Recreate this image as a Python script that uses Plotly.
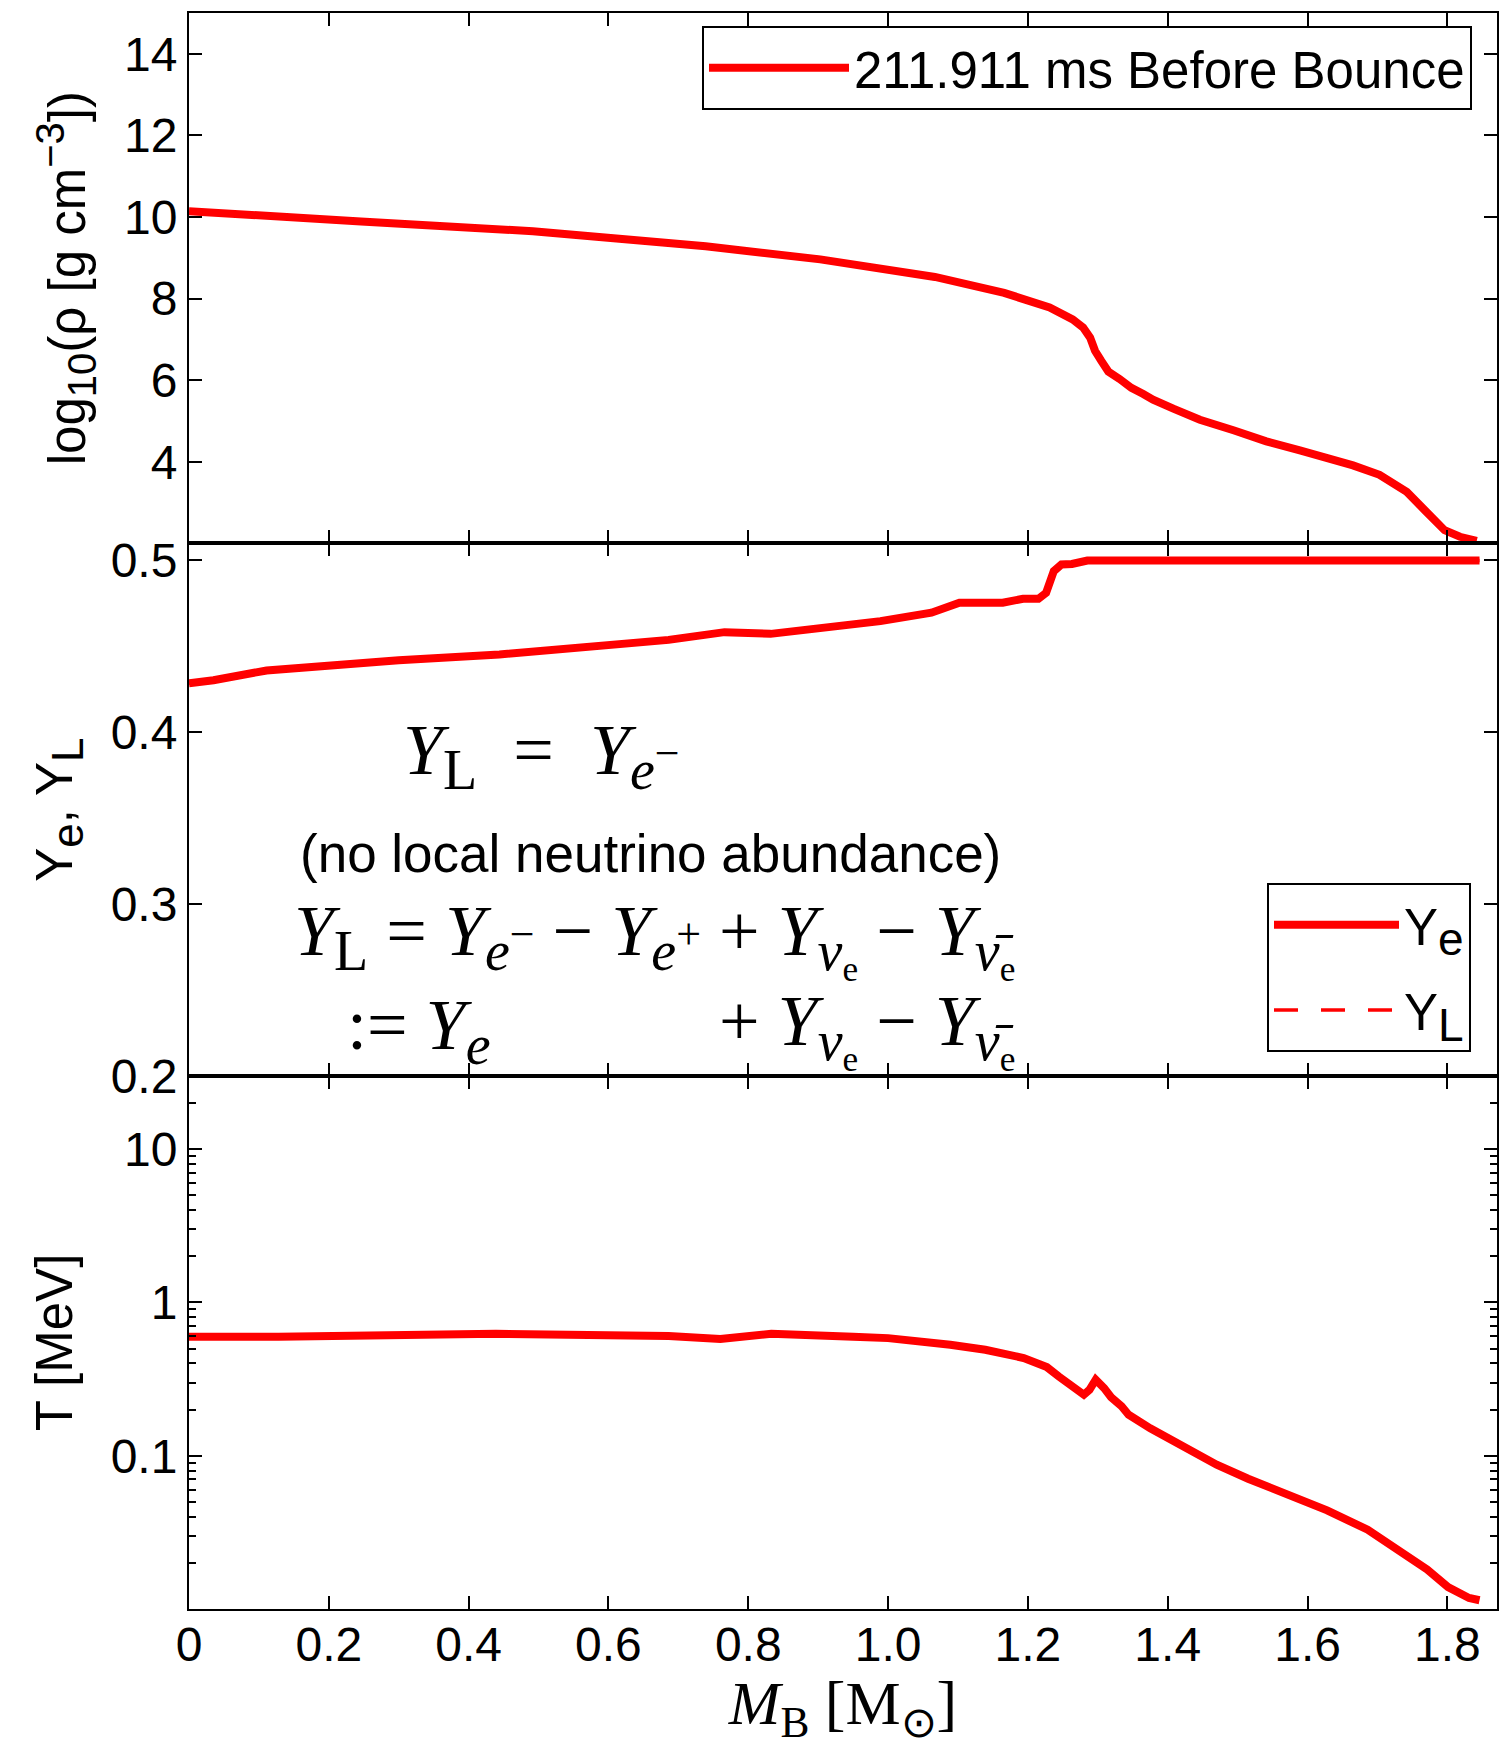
import plotly.graph_objects as go
from plotly.subplots import make_subplots

# ---------------- data ----------------
mass_rho = [0, 0.024, 0.246, 0.492, 0.739, 0.903, 1.067, 1.166, 1.231, 1.264, 1.279,
            1.289, 1.296, 1.305, 1.315, 1.331, 1.348, 1.365, 1.379, 1.408, 1.446,
            1.494, 1.541, 1.589, 1.627, 1.665, 1.703, 1.742, 1.770, 1.796, 1.818, 1.842]
log_rho = [10.14, 10.12, 9.89, 9.65, 9.28, 8.96, 8.53, 8.14, 7.78, 7.49, 7.29,
           7.04, 6.72, 6.47, 6.21, 6.03, 5.81, 5.66, 5.52, 5.30, 5.03,
           4.77, 4.50, 4.28, 4.11, 3.91, 3.68, 3.26, 2.77, 2.32, 2.16, 2.06]

mass_ye = [0, 0.035, 0.111, 0.206, 0.300, 0.444, 0.588, 0.686, 0.766, 0.832, 0.989,
           1.062, 1.102, 1.164, 1.193, 1.215, 1.226, 1.237, 1.248, 1.263, 1.285, 1.846]
ye = [0.4286, 0.4303, 0.4360, 0.4395, 0.4420, 0.4453, 0.4498, 0.4538, 0.4583, 0.4573, 0.4647,
      0.4696, 0.4754, 0.4754, 0.4777, 0.4777, 0.4812, 0.4938, 0.4977, 0.4980, 0.5000, 0.5000]
yl = [0.4286, 0.4303, 0.4360, 0.4395, 0.4420, 0.4453, 0.4498, 0.4538, 0.4583, 0.4573, 0.4647,
      0.4696, 0.4754, 0.4754, 0.4777, 0.4777, 0.4812, 0.4938, 0.4977, 0.4980, 0.5000, 0.5000]

mass_t = [0, 0.128, 0.439, 0.574, 0.686, 0.760, 0.833, 0.950, 1.000, 1.089, 1.139, 1.194,
          1.227, 1.244, 1.264, 1.280, 1.288, 1.297, 1.309, 1.319, 1.334, 1.344, 1.375,
          1.400, 1.440, 1.470, 1.515, 1.565, 1.600, 1.628, 1.686, 1.721, 1.771, 1.801,
          1.831, 1.846]
temp = [0.596, 0.597, 0.624, 0.622, 0.604, 0.578, 0.624, 0.596, 0.585, 0.529, 0.491, 0.434,
        0.379, 0.329, 0.286, 0.250, 0.269, 0.313, 0.276, 0.241, 0.210, 0.185, 0.151,
        0.130, 0.103, 0.0873, 0.0708, 0.0571, 0.0491, 0.044, 0.0329, 0.0256, 0.0181, 0.0139,
        0.0118, 0.0114]

x_ticks = [0, 0.2, 0.4, 0.6, 0.8, 1.0, 1.2, 1.4, 1.6, 1.8]
x_ticktext = ["0", "0.2", "0.4", "0.6", "0.8", "1.0", "1.2", "1.4", "1.6", "1.8"]
rho_ticks = [4, 6, 8, 10, 12, 14]
ye_ticks = [0.2, 0.3, 0.4, 0.5]
ye_ticktext = ["0.2", "0.3", "0.4", "0.5"]
t_ticks = [0.1, 1, 10]
t_ticktext = ["0.1", "1", "10"]
t_minor = [0.02, 0.03, 0.04, 0.05, 0.06, 0.07, 0.08, 0.09,
           0.2, 0.3, 0.4, 0.5, 0.6, 0.7, 0.8, 0.9,
           2, 3, 4, 5, 6, 7, 8, 9, 20]

# ---------------- layout helpers ----------------
W, H = 1499, 1746
ML, MR, MT, MB = 189, 2, 13, 137
PW, PH = W - ML - MR, H - MT - MB


def px(x):
    return (x - ML) / PW


def py(y):
    return 1 - (y - MT) / PH


def sub(t, size):
    return "<sub><span style='font-size:%dpx'>%s</span></sub>" % (size, t)


def sup(t, size):
    return "<sup><span style='font-size:%dpx'>%s</span></sup>" % (size, t)


SANS = "Liberation Sans, Arial, Helvetica, sans-serif"
SERIF = "Liberation Serif, Times New Roman, serif"
RED = "#ff0000"
TICKFONT = dict(family=SANS, size=48, color="black")
TITLEFONT = dict(family=SANS, size=51, color="black")
MATH = dict(family=SERIF, size=72, color="black")

# math pieces
SUBL = 56
Y_L = "<i>Y</i>" + sub("L", SUBL)
Y_em = "<i>Y</i><sub><span style='font-size:%dpx'><i>e</i></span>%s</sub>" % (SUBL, sup("−", 44))
Y_ep = "<i>Y</i><sub><span style='font-size:%dpx'><i>e</i></span>%s</sub>" % (SUBL, sup("+", 44))
Y_e = "<i>Y</i>" + sub("<i>e</i>", SUBL)
Y_nu = "<i>Y</i><sub><span style='font-size:%dpx'><i>ν</i></span><sub>e</sub></sub>" % SUBL
Y_nubar = "<i>Y</i><sub><span style='font-size:%dpx'><i>ν̄</i></span><sub>e</sub></sub>" % SUBL
SP = "\u2002"

fig = make_subplots(rows=3, cols=1, shared_xaxes=True, vertical_spacing=0)

fig.add_trace(go.Scatter(x=mass_rho, y=log_rho, mode="lines", name="211.911 ms Before Bounce",
                         line=dict(color=RED, width=8), legend="legend"), row=1, col=1)
fig.add_trace(go.Scatter(x=mass_ye, y=ye, mode="lines", name="Y" + sub("e", 46),
                         legendgroup="ye", line=dict(color=RED, width=8), legend="legend2"),
              row=2, col=1)
fig.add_trace(go.Scatter(x=mass_ye, y=yl, mode="lines", name="Y" + sub("L", 46),
                         legendgroup="yl", line=dict(color=RED, width=3.5, dash="24px,23px"),
                         legend="legend2"),
              row=2, col=1)
fig.add_trace(go.Scatter(x=mass_t, y=temp, mode="lines", showlegend=False,
                         line=dict(color=RED, width=8)), row=3, col=1)

common = dict(showline=True, linecolor="black", linewidth=2, mirror="allticks",
              ticks="inside", ticklen=13, tickwidth=2, tickcolor="black",
              showgrid=False, zeroline=False, tickfont=TICKFONT, automargin=False)

b1 = py(543.3)
b2 = py(1076)

for i, dom in zip([1, 2, 3], [[b1, 1], [b2, b1], [0, b2]]):
    fig.update_xaxes(row=i, col=1, range=[0, 1.871], tickmode="array", tickvals=x_ticks,
                     ticktext=x_ticktext, showticklabels=(i == 3), **common)
    fig.update_yaxes(row=i, col=1, domain=dom)

fig.update_yaxes(row=1, col=1, range=[2, 15], tickmode="array", tickvals=rho_ticks,
                 title=dict(text="log" + sub("10", 40) + "(ρ [g cm" + sup("−3", 40) + "])",
                            font=TITLEFONT, standoff=22),
                 **common)
fig.update_yaxes(row=2, col=1, range=[0.2, 0.51], tickmode="array", tickvals=ye_ticks,
                 ticktext=ye_ticktext,
                 title=dict(text="Y" + sub("e", 44) + ", Y" + sub("L", 44),
                            font=TITLEFONT, standoff=22),
                 **common)
fig.update_yaxes(row=3, col=1, type="log", range=[-2, 1.4771], tickmode="array",
                 tickvals=t_ticks, ticktext=t_ticktext,
                 minor=dict(tickmode="array", tickvals=t_minor, ticks="inside", ticklen=7,
                            tickwidth=1.5, tickcolor="black"),
                 title=dict(text="T [MeV]", font=TITLEFONT, standoff=22),
                 **common)
fig.update_xaxes(row=3, col=1, ticklabelstandoff=-8,
                 title=dict(text="<i>M</i><sub>B</sub> [M<sub>⊙</sub>]",
                            font=dict(family=SERIF, size=62, color="black"), standoff=34))

annos = [
    dict(text=Y_L + SP + "=" + SP + Y_em,
         x=px(401), y=py(755), xanchor="left", yanchor="middle", font=MATH),
    dict(text="(no local neutrino abundance)", x=px(650), y=py(853), xanchor="center",
         yanchor="middle", font=dict(family=SANS, size=53, color="black")),
    dict(text=Y_L + " = " + Y_em + " − " + Y_ep + " + " + Y_nu + " − " + Y_nubar,
         x=px(1017), y=py(940), xanchor="right", yanchor="middle", font=MATH),
    dict(text=":= " + Y_e, x=px(345), y=py(1030), xanchor="left",
         yanchor="middle", font=MATH),
    dict(text="+ " + Y_nu + " − " + Y_nubar,
         x=px(1017), y=py(1030), xanchor="right", yanchor="middle", font=MATH),
]
for a in annos:
    a.update(xref="paper", yref="paper", showarrow=False)

fig.update_layout(
    width=W, height=H,
    margin=dict(l=ML, r=MR, t=MT, b=MB),
    paper_bgcolor="white", plot_bgcolor="white",
    annotations=annos,
    legend=dict(x=px(1472), y=py(26), xanchor="right", yanchor="top",
                bordercolor="black", borderwidth=2, bgcolor="white", itemwidth=140,
                font=dict(family=SANS, size=51, color="black")),
    legend2=dict(x=px(1471), y=py(883), xanchor="right", yanchor="top",
                 bordercolor="black", borderwidth=2, bgcolor="white", itemwidth=125,
                 tracegroupgap=16,
                 font=dict(family=SANS, size=51, color="black")),
)

fig.write_html("out.html")
